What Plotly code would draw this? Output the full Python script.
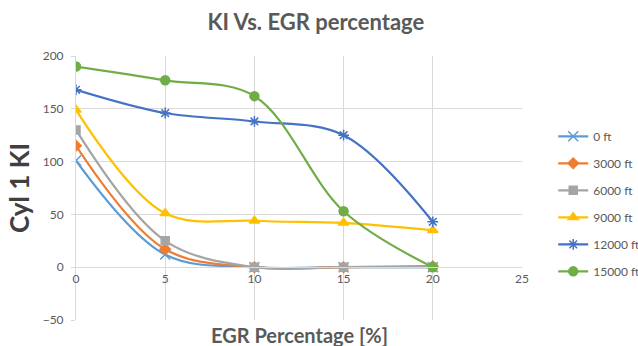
import plotly.graph_objects as go

# EGR percentage (x) and Cylinder 1 knock intensity per altitude
egr = [0, 5, 10, 15, 20]
ki_0ft = [101, 12, 0, 0, 0]
ki_3000ft = [115, 17, 0, 0, 1]
ki_6000ft = [130, 25, 0, 0, 0]
ki_9000ft = [149, 51, 44, 42, 35]
ki_12000ft = [168, 146, 138, 125, 43]
ki_15000ft = [190, 177, 162, 53, 0]

series = [
    ("0 ft", ki_0ft, "#5B9BD5", "x-thin-open", 10),
    ("3000 ft", ki_3000ft, "#ED7D31", "diamond", 8),
    ("6000 ft", ki_6000ft, "#A5A5A5", "square", 8),
    ("9000 ft", ki_9000ft, "#FFC000", "triangle-up", 9),
    ("12000 ft", ki_12000ft, "#4472C4", "asterisk-open", 9),
    ("15000 ft", ki_15000ft, "#70AD47", "circle", 9),
]

FONT = "Lato, 'Open Sans', sans-serif"
GRAY = "#595959"
GRID = "#D9D9D9"

fig = go.Figure()
for i, (name, vals, color, sym, size) in enumerate(series):
    fig.add_trace(go.Scatter(
        x=egr, y=vals, name=name, legendgroup=f"g{i}",
        mode="lines+markers",
        line=dict(color=color, width=2.2, shape="spline", smoothing=1),
        marker=dict(symbol=sym, size=size, color=color,
                    line=dict(color=color, width=1.5)),
    ))

fig.update_layout(
    width=638, height=346,
    margin=dict(l=76, r=116, t=56, b=26, autoexpand=False),
    paper_bgcolor="white", plot_bgcolor="white",
    font=dict(family=FONT, color=GRAY, size=12),
    title=dict(text="<b>KI Vs. EGR percentage</b>", x=0.495, xanchor="center",
               y=0.935, yanchor="middle",
               font=dict(family=FONT, size=22, color=GRAY)),
    xaxis=dict(range=[0, 25], dtick=5, showgrid=True, gridcolor=GRID,
               gridwidth=1, zeroline=False, showline=True, linecolor=GRID,
               linewidth=1, anchor="free", position=0.2,
               tickfont=dict(size=12, color=GRAY), ticks="", ticklen=0),
    yaxis=dict(range=[-50, 200], dtick=50, showgrid=True, gridcolor=GRID,
               gridwidth=1, zeroline=False, showline=True, linecolor=GRID,
               linewidth=1, ticks="outside", tickcolor=GRID, ticklen=4,
               ticklabelstandoff=5,
               tickfont=dict(size=12, color=GRAY)),
    legend=dict(x=1.07, xanchor="left", y=0.44, yanchor="middle",
                traceorder="grouped", tracegroupgap=8,
                font=dict(size=12, color=GRAY), bgcolor="rgba(0,0,0,0)"),
    showlegend=True,
)

fig.add_annotation(text="<b>Cyl 1 KI</b>", xref="paper", yref="paper",
                   x=-0.128, y=0.5, xanchor="center", yanchor="middle",
                   textangle=-90, showarrow=False,
                   font=dict(family=FONT, size=26, color="#404040"))
fig.add_annotation(text="<b>EGR Percentage [%]</b>", xref="paper", yref="paper",
                   x=0.502, y=-0.055, xanchor="center", yanchor="middle",
                   showarrow=False,
                   font=dict(family=FONT, size=20, color=GRAY))

fig.write_html("out.html")
